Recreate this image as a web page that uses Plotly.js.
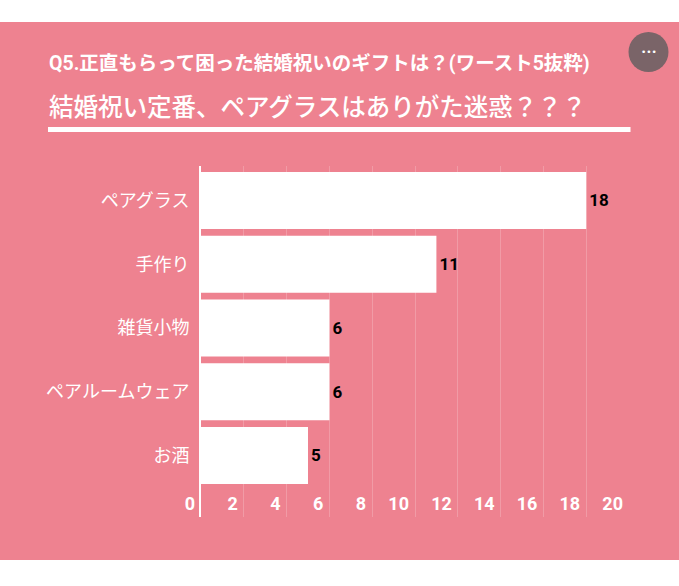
<!DOCTYPE html>
<html><head><meta charset="utf-8">
<script src="https://cdn.plot.ly/plotly-3.0.1.min.js"></script>
<style>html,body{margin:0;padding:0;background:#fff}#c{position:absolute;left:0;top:22px;width:679px;height:538px}</style>
</head><body><div id="c"></div>
<script>
const categories = ["ペアグラス","手作り","雑貨小物","ペアルームウェア","お酒"];
const values = [18,11,6,6,5];
const tickVals = [0,2,4,6,8,10,12,14,16,18,20];
const subtitle = "Q5.正直もらって困った結婚祝いのギフトは？(ワースト5抜粋)";
const heading = "結婚祝い定番、ペアグラスはありがた迷惑？？？";
const FONT = 'Roboto, "Noto Sans CJK JP", sans-serif';
const W=679,H=538,OFF=22, L=201,R=629,T=166-OFF,B=517-OFF;
const px=x=>(x-L)/(R-L), py=y=>1-((y-OFF)-T)/(B-T);
Plotly.newPlot('c',[{
  type:'bar',orientation:'h',x:values,y:categories,
  marker:{color:'#ffffff',line:{width:0}},width:0.894,
  text:values.map(String),textposition:'outside',cliponaxis:false,
  textfont:{family:FONT,size:17,color:'#000000',weight:700},
  hoverinfo:'skip'
}],{
  width:W,height:H,paper_bgcolor:'#ee8290',plot_bgcolor:'rgba(0,0,0,0)',
  margin:{l:L,r:W-R,t:T,b:H-B,pad:0},showlegend:false,
  font:{family:FONT,color:'#ffffff'},
  xaxis:{range:[0,20],tickvals:tickVals,ticktext:tickVals.map(String),showgrid:true,gridcolor:'rgba(255,255,255,0.2)',gridwidth:1,
    zeroline:false,showline:false,ticks:'',ticklabelposition:'inside left',ticklabeloverflow:'allow',ticklabelshift:-6,ticklabelstandoff:-3,
    tickfont:{family:FONT,size:18,color:'#ffffff',weight:700},fixedrange:true},
  yaxis:{type:'category',categoryorder:'array',categoryarray:categories,range:[4.965,-0.541],showgrid:false,zeroline:false,
    showline:true,linecolor:'#ffffff',linewidth:2,ticks:'outside',ticklen:6,tickcolor:'rgba(0,0,0,0)',
    tickfont:{family:FONT,size:18,color:'#ffffff'},fixedrange:true},
  shapes:[
    {type:'rect',xref:'paper',yref:'paper',x0:px(48),x1:px(630.5),y0:py(132),y1:py(127),fillcolor:'#ffffff',line:{width:0}},
    {type:'circle',xref:'paper',yref:'paper',x0:px(628.5),x1:px(668.5),y0:py(72),y1:py(32),fillcolor:'#7a6468',line:{width:0}}
  ],
  annotations:[
    {xref:'paper',yref:'paper',x:px(47),y:py(64),xanchor:'left',yanchor:'middle',showarrow:false,text:subtitle,font:{family:FONT,size:19.5,color:'#ffffff',weight:700}},
    {xref:'paper',yref:'paper',x:px(47),y:py(107),xanchor:'left',yanchor:'middle',showarrow:false,text:heading,font:{family:FONT,size:24.5,color:'#ffffff',weight:500}},
    {xref:'paper',yref:'paper',x:px(648.5),y:py(52),xanchor:'center',yanchor:'middle',showarrow:false,text:'•••',font:{family:'DejaVu Sans',size:9,color:'#ffffff'}}
  ]
},{displayModeBar:false,staticPlot:true});
</script></body></html>
